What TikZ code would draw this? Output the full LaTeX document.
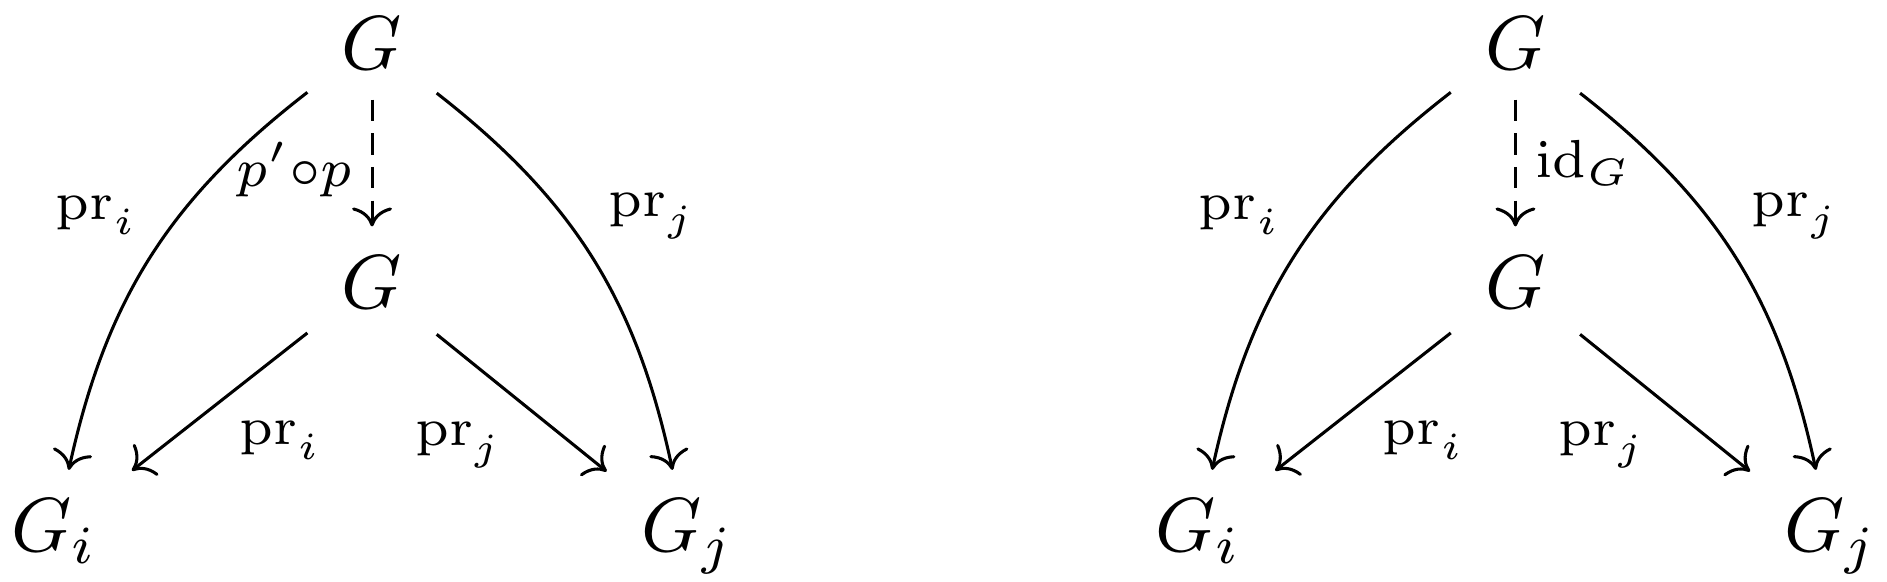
\documentclass[tikz,border=0pt]{standalone}
\usepackage{amsmath}
\usetikzlibrary{positioning,arrows.meta}
\tikzset{objeto/.style={inner xsep=1ex, inner ysep=0.85ex}}
\tikzset{flecha/.style={line width=0.4pt, -{Computer Modern Rightarrow}}}
\tikzset{punteada/.style={dash pattern=on 2.8pt off 1.6pt}}
\tikzset{etiqueta/.style={inner sep=2.4pt, font=\scriptsize}}

\begin{document}
\begin{tikzpicture}
            \useasboundingbox (0,0) rectangle (8.658,-2.670);
            % diagrama izquierdo
            \node[objeto, anchor=base] (G1) at (1.707,-0.321) {$G$};
            \node[objeto, below=1.094cm of G1.base, anchor=base] (H1) {$G$};
            \node[objeto, below left=  2.211cm and 1.457cm of G1.base, anchor=base] (Gi1) {$G_i$};
            \node[objeto, below right= 2.211cm and 1.447cm of G1.base, anchor=base] (Gj1) {$G_j$};

            \draw[flecha, punteada] (G1) -- node[etiqueta, pos=0.55, left] {$p'{\circ}p$} (H1);
            \draw[flecha] (G1) to[bend right=20] node[etiqueta, pos=0.38, left=2.9pt] {$\mathrm{pr}_i$} (Gi1);
            \draw[flecha] (G1) to[bend left=20] node[etiqueta, pos=0.38, right=3.3pt] {$\mathrm{pr}_j$} (Gj1);
            \draw[flecha] (H1) -- node[etiqueta, anchor=north west] {$\mathrm{pr}_i$} (Gi1);
            \draw[flecha] (H1) -- node[etiqueta, anchor=north east] {$\mathrm{pr}_j$} (Gj1);

            % diagrama derecho
            \node[objeto, anchor=base] (G2) at (6.953,-0.321) {$G$};
            \node[objeto, below=1.094cm of G2.base, anchor=base] (H2) {$G$};
            \node[objeto, below left=  2.211cm and 1.457cm of G2.base, anchor=base] (Gi2) {$G_i$};
            \node[objeto, below right= 2.211cm and 1.447cm of G2.base, anchor=base] (Gj2) {$G_j$};

            \draw[flecha, punteada] (G2) -- node[etiqueta, right] {$\mathrm{id}_G$} (H2);
            \draw[flecha] (G2) to[bend right=20] node[etiqueta, pos=0.38, left=2.9pt] {$\mathrm{pr}_i$} (Gi2);
            \draw[flecha] (G2) to[bend left=20] node[etiqueta, pos=0.38, right=3.3pt] {$\mathrm{pr}_j$} (Gj2);
            \draw[flecha] (H2) -- node[etiqueta, anchor=north west] {$\mathrm{pr}_i$} (Gi2);
            \draw[flecha] (H2) -- node[etiqueta, anchor=north east] {$\mathrm{pr}_j$} (Gj2);
        \end{tikzpicture}
\end{document}
